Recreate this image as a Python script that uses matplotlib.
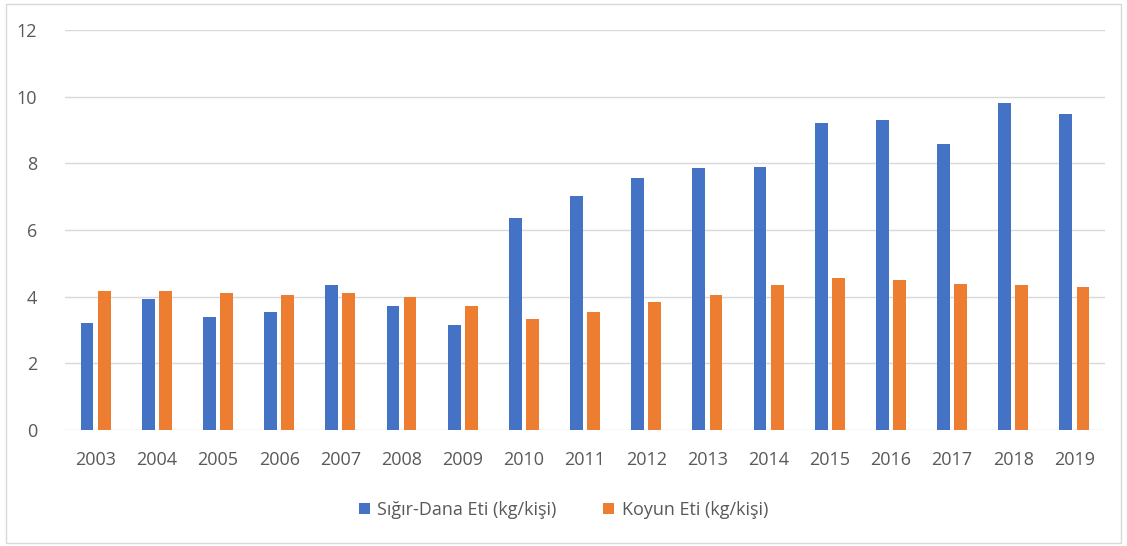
import numpy as np
import matplotlib.pyplot as plt
from matplotlib.patches import Rectangle

# data
years = ["2003", "2004", "2005", "2006", "2007", "2008", "2009", "2010", "2011",
         "2012", "2013", "2014", "2015", "2016", "2017", "2018", "2019"]
sigir = [3.20, 3.94, 3.38, 3.53, 4.34, 3.71, 3.15, 6.37, 7.03,
         7.56, 7.85, 7.89, 9.21, 9.31, 8.58, 9.81, 9.49]
koyun = [4.16, 4.16, 4.11, 4.05, 4.11, 3.99, 3.71, 3.32, 3.53,
         3.83, 4.05, 4.34, 4.56, 4.51, 4.39, 4.34, 4.28]
labels = ["Sığır-Dana Eti (kg/kişi)", "Koyun Eti (kg/kişi)"]

plt.rcParams['font.family'] = ['Open Sans', 'DejaVu Sans']
txt = "#595959"

fig = plt.figure(figsize=(11.27, 5.46), dpi=100)
ax = fig.add_axes([0.0577, 0.2125, 0.9228, 0.7325])

x = np.arange(len(years))
w = 0.21
off = w / 2 + 0.035
b1 = ax.bar(x - off, sigir, w, color="#4472C4", label=labels[0], zorder=3)
b2 = ax.bar(x + off, koyun, w, color="#ED7D31", label=labels[1], zorder=3)

ax.set_xlim(-0.5, len(years) - 0.5)
ax.set_ylim(0, 12)
ax.set_yticks(range(0, 13, 2))
ax.set_xticks(x)
ax.set_xticklabels(years)
ax.yaxis.grid(True, color="#D9D9D9", linewidth=1, zorder=0)
for s in ax.spines.values():
    s.set_visible(False)
ax.tick_params(axis="both", length=0, colors=txt, labelsize=13)
ax.tick_params(axis="y", pad=20)
ax.tick_params(axis="x", pad=15)

fig.legend(handles=[b1, b2], loc="center", bbox_to_anchor=(0.5, 0.066),
           ncol=2, frameon=False, fontsize=13, labelcolor=txt,
           handlelength=0.6, handleheight=0.6, handletextpad=0.4,
           columnspacing=2.6)

# light chart-area border
fig.patches.append(Rectangle((0.005, 0.005), 0.99, 0.988, transform=fig.transFigure,
                             fill=False, edgecolor="#D9D9D9", linewidth=1))

fig.savefig("out.png", dpi=100)
